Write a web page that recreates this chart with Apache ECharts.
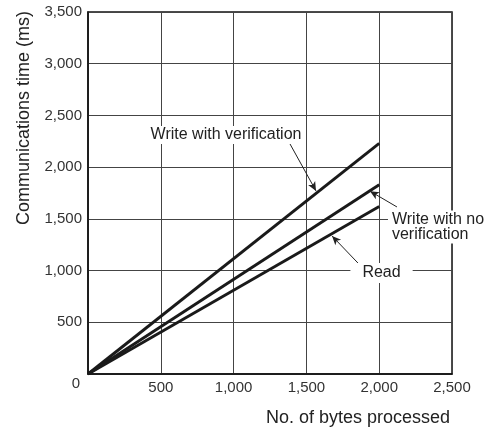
<!DOCTYPE html>
<html>
<head>
<meta charset="utf-8">
<script src="https://cdn.jsdelivr.net/npm/echarts@6/dist/echarts.min.js"></script>
<style>
html,body{margin:0;padding:0;background:#fff;}
#main{width:485px;height:429px;}
</style>
</head>
<body>
<div id="main"></div>
<script>
// values
var xTicks = [0, 500, 1000, 1500, 2000, 2500];
var yTicks = [0, 500, 1000, 1500, 2000, 2500, 3000, 3500];
var bytes = [0, 2000];
var writeVerify = [0, 2230];
var writeNoVerify = [0, 1830];
var readTime = [0, 1620];

// callout arrows: [from, to] in data units
var arrowVerify = [[1380, 2243], [1566, 1770]];
var arrowNoVerify = [[2122, 1615], [1937, 1768]];
var arrowRead = [[1854, 1073], [1676, 1335]];

function pairs(xs, ys){
  var out = [];
  for (var i = 0; i < xs.length; i++) out.push([xs[i], ys[i]]);
  return out;
}
function fmt(v){
  if (v == 0) return '';
  return v.toString().replace(/\B(?=(\d{3})+(?!\d))/g, ',');
}

var font = 'Liberation Sans, Arial, Helvetica, sans-serif';
var lineStyle = {color: '#1a1a1a', width: 2.9};

var myChart = echarts.init(document.getElementById('main'));
var option = {
  animation: false,
  backgroundColor: '#fff',
  grid: {left: 88, top: 12, right: 33, bottom: 55, show: true, borderColor: '#111', borderWidth: 1.5},
  xAxis: {
    type: 'value', min: xTicks[0], max: xTicks[xTicks.length-1], interval: 500,
    axisLine: {lineStyle: {color: '#111', width: 1.5}},
    axisTick: {show: false},
    splitLine: {lineStyle: {color: '#444', width: 1}},
    axisLabel: {formatter: fmt, color: '#333', fontSize: 15, fontFamily: font, margin: 6}
  },
  yAxis: {
    type: 'value', min: yTicks[0], max: yTicks[yTicks.length-1], interval: 500,
    axisLine: {lineStyle: {color: '#111', width: 1.5}},
    axisTick: {show: false},
    splitLine: {lineStyle: {color: '#444', width: 1}},
    axisLabel: {formatter: fmt, color: '#333', fontSize: 15, fontFamily: font, margin: 6}
  },
  series: [
    {name: 'Write with verification', type: 'line', data: pairs(bytes, writeVerify), symbol: 'none', lineStyle: lineStyle, silent: true},
    {name: 'Write with no verification', type: 'line', data: pairs(bytes, writeNoVerify), symbol: 'none', lineStyle: lineStyle, silent: true},
    {name: 'Read', type: 'line', data: pairs(bytes, readTime), symbol: 'none', lineStyle: lineStyle, silent: true,
      markLine: {
        silent: true,
        symbol: ['none', 'arrow'],
        symbolSize: [6, 9],
        label: {show: false},
        lineStyle: {color: '#222', width: 1, type: 'solid'},
        data: [
          [{coord: arrowVerify[0]}, {coord: arrowVerify[1]}],
          [{coord: arrowNoVerify[0]}, {coord: arrowNoVerify[1]}],
          [{coord: arrowRead[0]}, {coord: arrowRead[1]}]
        ]
      }
    }
  ]
};
myChart.setOption(option);

function px(pt){ return myChart.convertToPixel({gridIndex: 0}, pt); }
var labelStyle = {fill: '#222', fontSize: 16, fontFamily: font, backgroundColor: '#fff'};
var pV = px([948, 2311]);
var pN = px([2074, 1421]);
var pR = px([2016, 976]);
var p0 = px([0, 0]);

myChart.setOption({
  graphic: [
    {type: 'text', x: pV[0], y: pV[1], z: 100,
      style: Object.assign({text: 'Write with verification', align: 'center', verticalAlign: 'middle', padding: [1, 2]}, labelStyle)},
    {type: 'text', x: pN[0] - 2, y: pN[1], z: 100,
      style: Object.assign({text: 'Write with no\nverification', align: 'left', verticalAlign: 'middle', lineHeight: 15, padding: [1, 4, 2, 4]}, labelStyle)},
    {type: 'text', x: pR[0], y: pR[1], z: 100,
      style: Object.assign({text: 'Read', align: 'center', verticalAlign: 'middle', padding: [2, 12]}, labelStyle)},
    {type: 'text', x: p0[0] - 12, y: p0[1] + 10,
      style: {text: '0', fill: '#333', fontSize: 15, fontFamily: font, align: 'center', verticalAlign: 'middle'}},
    {type: 'text', x: 24, y: 118, rotation: Math.PI / 2,
      style: {text: 'Communications time (ms)', fill: '#222', fontSize: 18, fontFamily: font, align: 'center', verticalAlign: 'middle'}},
    {type: 'text', x: 358, y: 418,
      style: {text: 'No. of bytes processed', fill: '#222', fontSize: 18, fontFamily: font, align: 'center', verticalAlign: 'middle'}}
  ]
});
</script>
</body>
</html>
